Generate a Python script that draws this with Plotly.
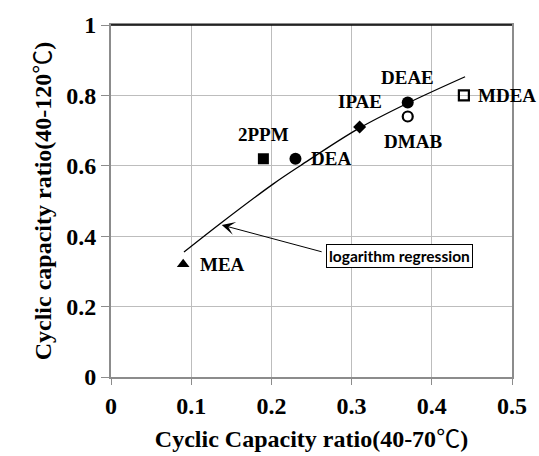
import plotly.graph_objects as go

# Amine screening: cyclic capacity ratios at two regeneration temperatures
amines = ["MEA", "2PPM", "DEA", "IPAE", "DEAE", "DMAB", "MDEA"]
ratio_40_70 = [0.09, 0.19, 0.23, 0.31, 0.37, 0.37, 0.44]
ratio_40_120 = [0.32, 0.62, 0.62, 0.71, 0.78, 0.74, 0.80]
symbols = ["triangle-up", "square", "circle", "diamond", "circle", "circle-open", "square-open"]
sizes = [11, 11, 12, 10, 12, 10, 10]

# axis ticks
x_ticks = [0, 0.1, 0.2, 0.3, 0.4, 0.5]
x_tick_labels = ["0", "0.1", "0.2", "0.3", "0.4", "0.5"]
y_ticks = [0, 0.2, 0.4, 0.6, 0.8, 1.0]
y_tick_labels = ["0", "0.2", "0.4", "0.6", "0.8", "1"]

# label placement relative to each marker: (xanchor, yanchor, xshift, yshift)
label_pos = {
    "MEA": ("left", "middle", 15, 0),
    "2PPM": ("center", "bottom", 0, 12),
    "DEA": ("left", "middle", 14, 0),
    "IPAE": ("center", "bottom", 0, 13),
    "DEAE": ("center", "bottom", 0, 12),
    "DMAB": ("center", "top", 5, -12),
    "MDEA": ("left", "middle", 12, 0),
}

# logarithmic regression curve, sampled along its length
curve_x = [0.091, 0.138, 0.202, 0.2365, 0.308, 0.370, 0.4415]
curve_y = [0.355, 0.439, 0.548, 0.601, 0.705, 0.778, 0.853]

serif = "Liberation Serif"
grid_col = "#bdbdbd"
axis_col = "#8c8c8c"
degc = "<span style=\"font-family:'Noto Sans CJK JP';font-weight:normal\">℃</span>"

fig = go.Figure()

fig.add_trace(go.Scatter(
    x=curve_x, y=curve_y, mode="lines",
    line=dict(color="black", width=1.3, shape="spline", smoothing=1.0),
    hoverinfo="skip", showlegend=False,
))

for name, xv, yv, sym, sz in zip(amines, ratio_40_70, ratio_40_120, symbols, sizes):
    open_marker = sym.endswith("-open")
    fig.add_trace(go.Scatter(
        x=[xv], y=[yv], mode="markers", name=name, showlegend=False,
        marker=dict(symbol=sym, size=sz, color="black",
                    line=dict(color="black", width=2.2 if open_marker else 0)),
    ))
    xa, ya, xs, ys = label_pos[name]
    fig.add_annotation(
        x=xv, y=yv, text=f"<b>{name}</b>", showarrow=False,
        xanchor=xa, yanchor=ya, xshift=xs, yshift=ys,
        font=dict(family=serif, size=19, color="black"),
    )

# callout box and arrow for the regression curve
fig.add_annotation(
    x=0.360, y=0.343, xref="x", yref="y", text="<b>logarithm regression</b>",
    showarrow=False, bordercolor="black", borderwidth=1, borderpad=2,
    bgcolor="white",
    font=dict(family="Lato", size=15.5, color="black"),
)
fig.add_annotation(
    x=0.1381, y=0.4318, ax=0.2645, ay=0.3546, axref="x", ayref="y",
    xref="x", yref="y", text="", showarrow=True,
    arrowhead=3, arrowsize=2.2, arrowwidth=1, arrowcolor="black",
)

# dark top edge of the plot frame
fig.add_shape(type="line", xref="paper", yref="paper", x0=0, x1=1, y0=1, y1=1,
              line=dict(color="black", width=1.5))

fig.update_layout(
    width=539, height=456,
    margin=dict(l=111, r=21, t=20, b=77),
    paper_bgcolor="white", plot_bgcolor="white",
    font=dict(family=serif, color="black"),
)
fig.update_xaxes(
    range=[0, 0.5], tickvals=x_ticks, ticktext=[f"<b>{t}</b>" for t in x_tick_labels],
    showgrid=True, gridcolor=grid_col, gridwidth=1,
    showline=True, linecolor=axis_col, linewidth=2, mirror=True,
    ticks="outside", ticklen=6, tickcolor=axis_col, tickwidth=1,
    zeroline=False,
    tickfont=dict(family=serif, size=24, color="black"),
    title=dict(text=f"<b>Cyclic Capacity ratio(40-70{degc})</b>", standoff=8,
               font=dict(family=serif, size=24, color="black")),
)
fig.update_yaxes(
    range=[0, 1], tickvals=y_ticks, ticktext=[f"<b>{t}</b>" for t in y_tick_labels],
    showgrid=True, gridcolor=grid_col, gridwidth=1,
    showline=True, linecolor=axis_col, linewidth=2, mirror=True,
    ticks="outside", ticklen=8, tickcolor=axis_col, tickwidth=1,
    zeroline=False,
    tickfont=dict(family=serif, size=24, color="black"),
    title=dict(text=f"<b>Cyclic capacity ratio(40-120{degc})</b>", standoff=8,
               font=dict(family=serif, size=24, color="black")),
)

fig.write_html("out.html")
